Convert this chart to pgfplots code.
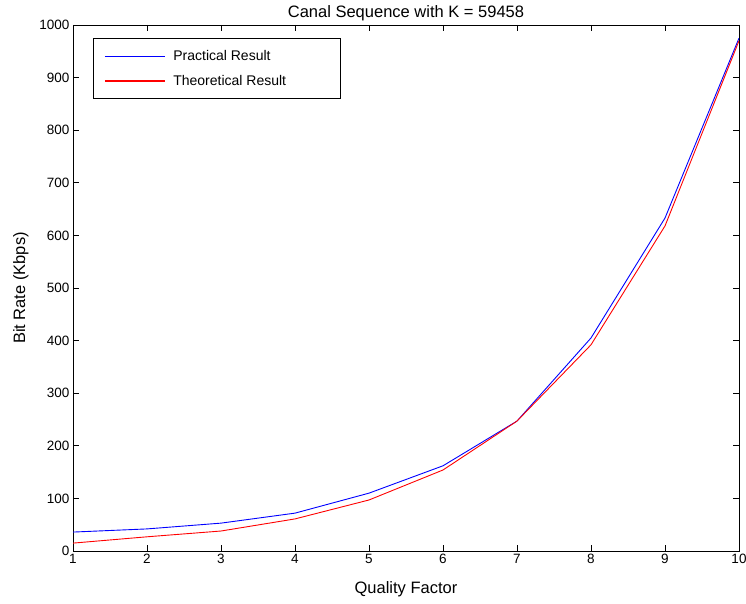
\documentclass[border=0pt]{standalone}
\usepackage{pgfplots}
\pgfplotsset{compat=1.18}
\usepackage{fontspec}
\setmainfont{Liberation Sans}

\begin{document}
\begin{tikzpicture}
\begin{axis}[
  at={(0pt,0pt)}, anchor=south west,
  scale only axis=true,
  width=666pt,
  height=526pt,
  xmin=1, xmax=10,
  ymin=0, ymax=1000,
  xtick={1,...,10},
  ytick={0,100,...,1000},
  tick align=inside,
  tick style={black, line width=0.8pt},
  major tick length=6pt,
  axis line style={line width=0.8pt},
  title={Canal Sequence with K = 59458},
  title style={yshift=-5pt, font=\fontsize{16.5}{18}\selectfont},
  xlabel={Quality Factor},
  ylabel={Bit Rate (Kbps)},
  label style={font=\fontsize{16.5}{18}\selectfont},
  xlabel style={yshift=-11pt},
  ylabel style={yshift=4pt},
  font=\fontsize{13.5}{16}\selectfont,
  /pgf/number format/assume math mode=true,
  /pgf/number format/1000 sep={},
  legend style={at={(0.03,0.975)}, anchor=north west, draw=black,
    inner xsep=11pt, inner ysep=10pt, row sep=9pt, line width=0.8pt,
    font=\fontsize{14}{16}\selectfont},
  legend cell align=left,
  legend image code/.code={\draw[#1, draw=., line width=1.2pt] (0cm,0cm) -- (2.1cm,0cm);},
]
\addplot[color=blue, line width=0.9pt] coordinates {
  (1,36) (2,42) (3,53) (4,72) (5,110) (6,162) (7,247) (8,405) (9,633) (10,975)
};
\addplot[color=red, line width=0.9pt] coordinates {
  (1,15) (2,27) (3,38) (4,61) (5,97) (6,154) (7,247) (8,392) (9,618) (10,970)
};
\legend{\makebox[160pt][l]{\hspace{6pt}Practical Result}, \hspace{6pt}Theoretical Result}
\end{axis}
\pgfresetboundingbox
\path[use as bounding box] (-73pt,-52pt) rectangle (673pt,551pt);
\end{tikzpicture}
\end{document}
